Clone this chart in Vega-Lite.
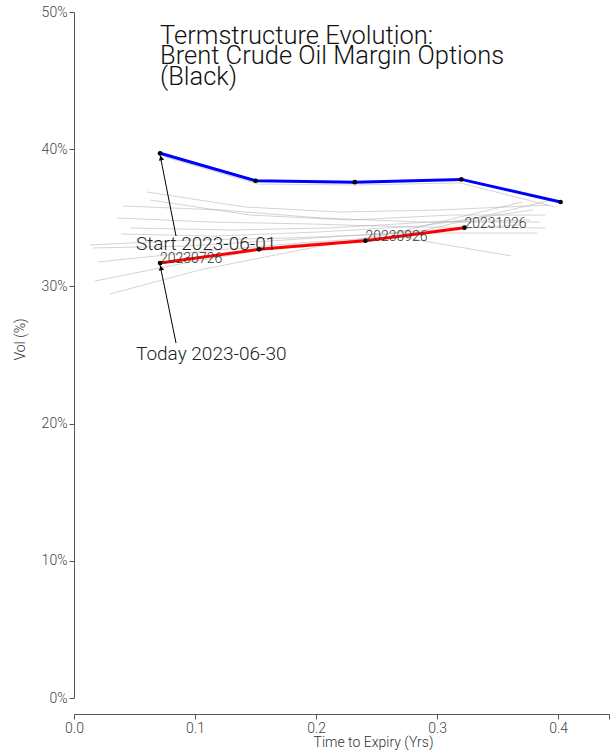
{
  "$schema": "https://vega.github.io/schema/vega-lite/v6.json",
  "width": 535,
  "height": 686,
  "autosize": {"type": "none"},
  "padding": {"left": 74, "top": 12, "right": 4, "bottom": 52},
  "title": {
    "text": ["Termstructure Evolution:", "Brent Crude Oil Margin Options", "(Black)"],
    "anchor": "start",
    "frame": "group",
    "orient": "top",
    "offset": 0,
    "dx": 86,
    "dy": 105,
    "baseline": "alphabetic",
    "lineHeight": 20.5,
    "fontSize": 25.5,
    "font": "Roboto",
    "fontWeight": 300,
    "color": "#111"
  },
  "config": {
    "font": "Roboto",
    "view": {"stroke": null},
    "axis": {
      "grid": false,
      "domainColor": "#555",
      "tickColor": "#555",
      "labelColor": "#444",
      "labelFont": "Roboto",
      "labelFontWeight": 300,
      "labelFontSize": 14,
      "titleFont": "Roboto",
      "titleFontWeight": 300,
      "titleFontSize": 14,
      "titleColor": "#333"
    }
  },
  "datasets": {
    "hist": [
      {"d": "g1", "t": 0.0603, "vol": 0.3688}, {"d": "g1", "t": 0.1413, "vol": 0.3579}, {"d": "g1", "t": 0.2198, "vol": 0.3542}, {"d": "g1", "t": 0.3025, "vol": 0.3557}, {"d": "g1", "t": 0.3917, "vol": 0.3593},
      {"d": "g2", "t": 0.0405, "vol": 0.3586}, {"d": "g2", "t": 0.1207, "vol": 0.3557}, {"d": "g2", "t": 0.2033, "vol": 0.3499}, {"d": "g2", "t": 0.2860, "vol": 0.3469}, {"d": "g2", "t": 0.3851, "vol": 0.3469},
      {"d": "g3", "t": 0.0355, "vol": 0.3499}, {"d": "g3", "t": 0.1124, "vol": 0.3469}, {"d": "g3", "t": 0.1950, "vol": 0.3455}, {"d": "g3", "t": 0.2777, "vol": 0.3433}, {"d": "g3", "t": 0.3893, "vol": 0.3426},
      {"d": "g4", "t": 0.0388, "vol": 0.3382}, {"d": "g4", "t": 0.1165, "vol": 0.3367}, {"d": "g4", "t": 0.2033, "vol": 0.3397}, {"d": "g4", "t": 0.2860, "vol": 0.3440}, {"d": "g4", "t": 0.3793, "vol": 0.3557},
      {"d": "g5", "t": 0.0132, "vol": 0.3302}, {"d": "g5", "t": 0.0959, "vol": 0.3338}, {"d": "g5", "t": 0.1785, "vol": 0.3353}, {"d": "g5", "t": 0.2612, "vol": 0.3382}, {"d": "g5", "t": 0.3702, "vol": 0.3615},
      {"d": "g6", "t": 0.0157, "vol": 0.3280}, {"d": "g6", "t": 0.0917, "vol": 0.3294}, {"d": "g6", "t": 0.1744, "vol": 0.3338}, {"d": "g6", "t": 0.2612, "vol": 0.3389}, {"d": "g6", "t": 0.3826, "vol": 0.3389},
      {"d": "g7", "t": 0.0198, "vol": 0.3178}, {"d": "g7", "t": 0.1000, "vol": 0.3251}, {"d": "g7", "t": 0.1868, "vol": 0.3316}, {"d": "g7", "t": 0.2694, "vol": 0.3367}, {"d": "g7", "t": 0.3950, "vol": 0.3630},
      {"d": "g8", "t": 0.0174, "vol": 0.3039}, {"d": "g8", "t": 0.0959, "vol": 0.3178}, {"d": "g8", "t": 0.1785, "vol": 0.3302}, {"d": "g8", "t": 0.2694, "vol": 0.3360}, {"d": "g8", "t": 0.3612, "vol": 0.3222},
      {"d": "g9", "t": 0.0298, "vol": 0.2945}, {"d": "g9", "t": 0.1041, "vol": 0.3120}, {"d": "g9", "t": 0.1868, "vol": 0.3265}, {"d": "g9", "t": 0.2694, "vol": 0.3397}, {"d": "g9", "t": 0.3686, "vol": 0.3448},
      {"d": "g10", "t": 0.0752, "vol": 0.3943}, {"d": "g10", "t": 0.1521, "vol": 0.3746}, {"d": "g10", "t": 0.2322, "vol": 0.3739}, {"d": "g10", "t": 0.3190, "vol": 0.3754}, {"d": "g10", "t": 0.3975, "vol": 0.3579},
      {"d": "g11", "t": 0.0628, "vol": 0.3630}, {"d": "g11", "t": 0.1455, "vol": 0.3520}, {"d": "g11", "t": 0.2281, "vol": 0.3484}, {"d": "g11", "t": 0.3107, "vol": 0.3520}, {"d": "g11", "t": 0.3893, "vol": 0.3520},
      {"d": "g12", "t": 0.0463, "vol": 0.3426}, {"d": "g12", "t": 0.1289, "vol": 0.3411}, {"d": "g12", "t": 0.2116, "vol": 0.3426}, {"d": "g12", "t": 0.2942, "vol": 0.3469}, {"d": "g12", "t": 0.3769, "vol": 0.3484}
    ],
    "curves": [
      {"series": "Start", "t": 0.0711, "vol": 0.397, "label": ""},
      {"series": "Start", "t": 0.150, "vol": 0.377, "label": ""},
      {"series": "Start", "t": 0.232, "vol": 0.376, "label": ""},
      {"series": "Start", "t": 0.320, "vol": 0.378, "label": ""},
      {"series": "Start", "t": 0.402, "vol": 0.3615, "label": ""},
      {"series": "Today", "t": 0.0711, "vol": 0.317, "label": "20230726"},
      {"series": "Today", "t": 0.1529, "vol": 0.327, "label": ""},
      {"series": "Today", "t": 0.2408, "vol": 0.3333, "label": "20230926"},
      {"series": "Today", "t": 0.3226, "vol": 0.3428, "label": "20231026"}
    ],
    "notes": [
      {"text": "Start 2023-06-01", "tx": 0.0512, "ty": 0.3309, "x1": 0.0843, "y1": 0.3367, "x2": 0.0711, "y2": 0.3958, "hx": 0.0719, "hy": 0.3936},
      {"text": "Today 2023-06-30", "tx": 0.0512, "ty": 0.2507, "x1": 0.0843, "y1": 0.2587, "x2": 0.0711, "y2": 0.3156, "hx": 0.0719, "hy": 0.3134}
    ]
  },
  "layer": [
    {
      "data": {"name": "hist"},
      "mark": {"type": "line", "color": "#aaaaaa", "strokeWidth": 1, "opacity": 0.5},
      "encoding": {
        "x": {"field": "t", "type": "quantitative", "scale": {"domain": [0, 0.442], "nice": false},
          "axis": {"title": "Time to Expiry (Yrs)", "offset": 16, "values": [0, 0.1, 0.2, 0.3, 0.4, 0.442],
            "labelFlush": false,
            "labelExpr": "datum.value > 0.41 ? '' : format(datum.value, '.1f')", "titlePadding": 0, "titleX": 299}},
        "y": {"field": "vol", "type": "quantitative", "scale": {"domain": [0, 0.5], "nice": false},
          "axis": {"title": "Vol (%)", "format": ".0%", "values": [0, 0.1, 0.2, 0.3, 0.4, 0.5], "titlePadding": 14, "titleY": 327}},
        "detail": {"field": "d"}
      }
    },
    {
      "data": {"name": "curves"},
      "mark": {"type": "line", "strokeWidth": 3},
      "encoding": {
        "x": {"field": "t", "type": "quantitative"},
        "y": {"field": "vol", "type": "quantitative"},
        "color": {"field": "series", "type": "nominal", "scale": {"domain": ["Start", "Today"], "range": ["#0000ff", "#ff0000"]}, "legend": null}
      }
    },
    {
      "data": {"name": "curves"},
      "mark": {"type": "point", "filled": true, "color": "black", "size": 22, "opacity": 1},
      "encoding": {
        "x": {"field": "t", "type": "quantitative"},
        "y": {"field": "vol", "type": "quantitative"}
      }
    },
    {
      "data": {"name": "curves"},
      "mark": {"type": "text", "align": "left", "baseline": "bottom", "dx": 0, "dy": 3, "fontSize": 14, "fontWeight": 300, "color": "#333"},
      "encoding": {
        "x": {"field": "t", "type": "quantitative"},
        "y": {"field": "vol", "type": "quantitative"},
        "text": {"field": "label"}
      }
    },
    {
      "data": {"name": "notes"},
      "mark": {"type": "rule", "color": "black", "strokeWidth": 1},
      "encoding": {
        "x": {"field": "x1", "type": "quantitative"},
        "y": {"field": "y1", "type": "quantitative"},
        "x2": {"field": "x2"},
        "y2": {"field": "y2"}
      }
    },
    {
      "data": {"name": "notes"},
      "mark": {"type": "point", "shape": "triangle-up", "filled": true, "color": "black", "size": 30, "angle": -11, "opacity": 1},
      "encoding": {
        "x": {"field": "hx", "type": "quantitative"},
        "y": {"field": "hy", "type": "quantitative"}
      }
    },
    {
      "data": {"name": "notes"},
      "mark": {"type": "text", "align": "left", "baseline": "middle", "fontSize": 19, "fontWeight": 300, "color": "#222"},
      "encoding": {
        "x": {"field": "tx", "type": "quantitative"},
        "y": {"field": "ty", "type": "quantitative"},
        "text": {"field": "text"}
      }
    }
  ]
}
